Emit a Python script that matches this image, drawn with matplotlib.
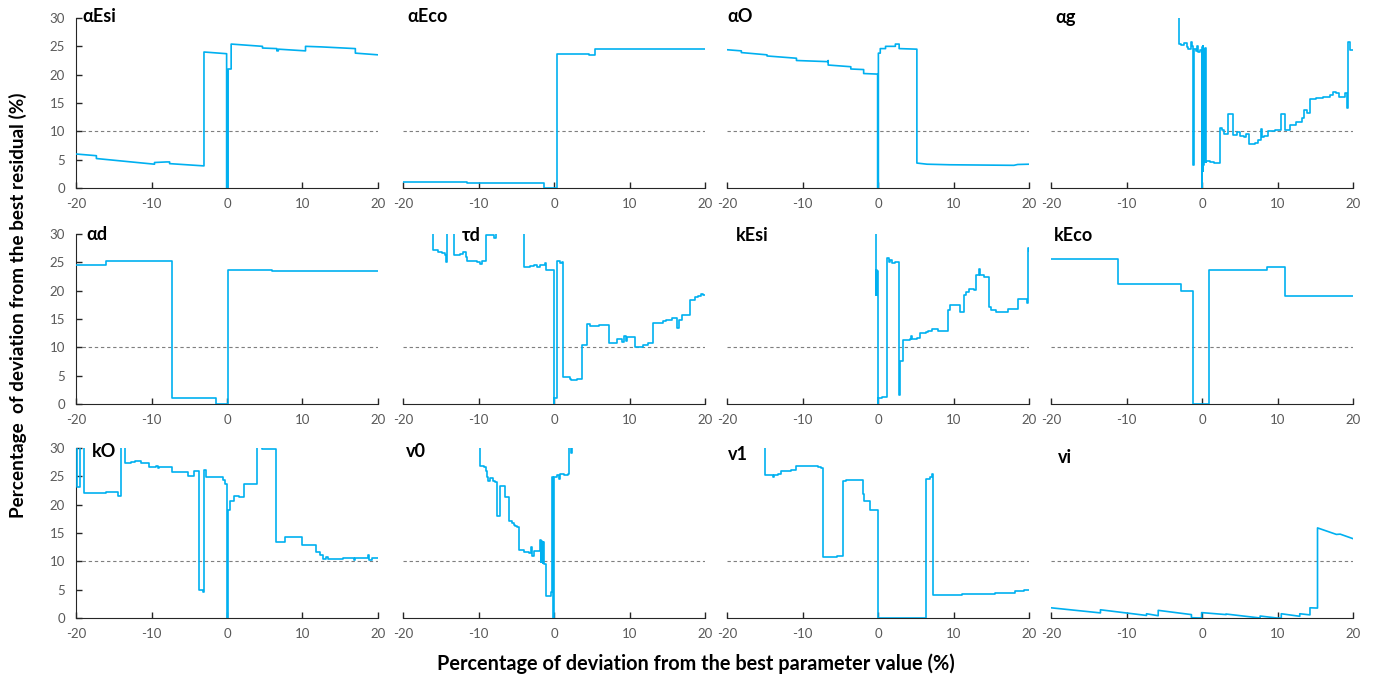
import matplotlib
matplotlib.use("Agg")
import matplotlib.pyplot as plt

plt.rcParams["font.family"] = ["Lato", "DejaVu Sans"]
plt.rcParams["axes.unicode_minus"] = False

LINE_COLOR = "#00B0F0"
TICK_GRAY = "#595959"

# --- residual curves, one pair of lists per parameter ---------------------
# polylines (sloped parts drawn as-is)
aesi_x = [-20, -17.3, -17.3, -9.6, -9.6, -8.0, -7.6, -7.6, -3.05, -3.05, -0.05, -0.05, 0.15, 0.15,
          0.55, 0.55, 4.7, 4.7, 6.6, 6.6, 6.8, 6.8, 10.4, 10.4, 12.5, 17.0, 17.0, 20]
aesi_y = [6.0, 5.7, 5.2, 4.2, 4.5, 4.6, 4.6, 4.3, 3.9, 24.0, 23.7, 0.0, 0.0, 21.0,
          21.0, 25.4, 25.0, 24.7, 24.6, 24.2, 24.2, 24.5, 24.2, 25.0, 24.9, 24.6, 23.8, 23.5]

ao_x = [-20, -18.1, -18.1, -14.7, -14.7, -10.8, -10.8, -6.7, -6.6, -6.6, -3.6, -3.6, -1.9, -1.9,
        -0.05, -0.05, 0.05, 0.05, 0.3, 0.3, 1.0, 1.0, 2.3, 2.3, 2.8, 2.8, 5.15, 5.15, 6.5, 9.5,
        18.0, 18.5, 20]
ao_y = [24.4, 24.2, 23.9, 23.5, 23.3, 22.9, 22.5, 22.3, 22.5, 21.7, 21.4, 21.0, 20.9, 20.2,
        20.1, 0.0, 0.0, 23.8, 23.8, 24.6, 24.6, 25.0, 25.0, 25.4, 25.4, 24.6, 24.5, 4.4, 4.2, 4.1,
        4.0, 4.15, 4.2]

vi_x = [-20, -13.45, -13.45, -7.35, -7.35, -5.8, -5.8, -1.4, -1.4, -0.05, -0.05, 3.2, 3.2, 7.7,
        7.7, 9.9, 10.5, 10.5, 12.95, 12.95, 14.3, 14.3, 15.3, 15.3, 17.8, 18.3, 20]
vi_y = [1.8, 0.9, 1.45, 0.45, 0.75, 0.4, 1.35, 0.6, 0.05, 0.0, 0.95, 0.6, 0.7, 0.0,
        0.35, 0.0, 0.0, 0.75, 0.3, 0.75, 0.55, 1.8, 1.75, 15.9, 14.75, 14.8, 14.0]

# step curves (value holds from x[i] to x[i+1]); 31 = off the top of the axis
aeco_x = [-20, -17.2, -11.5, -5.5, -1.3, 0.4, 4.6, 5.4, 20]
aeco_y = [1.1, 1.05, 0.95, 0.85, 0.0, 23.7, 23.5, 24.5, 24.45]

ag_x = [-3.05, -3.05, -2.8, -2.4, -2.2, -2.0, -1.9, -1.5, -1.3, -1.15, -1.1, -0.75, -0.7, -0.5,
        -0.3, -0.05, 0.02, 0.07, 0.12, 0.17, 0.22, 0.27, 0.32, 0.37, 0.42, 0.47, 0.55, 1.0, 1.6,
        2.45, 2.7, 2.95, 3.45, 4.15, 4.6, 5.0, 5.5, 5.8, 6.2, 7.0, 7.45, 7.75, 7.9, 8.2, 8.8,
        9.65, 10.5, 10.95, 11.6, 12.5, 13.2, 13.5, 13.9, 14.3, 15.15, 16.0, 16.9, 17.4, 17.8,
        18.2, 19.0, 19.2, 19.3, 19.55, 20.0]
ag_y = [31, 25.4, 25.2, 25.6, 25.5, 24.9, 24.6, 25.8, 25.0, 4.0, 24.5, 24.2, 25.0, 24.0,
        24.3, 0.0, 24.8, 3.0, 25.0, 4.0, 24.5, 5.0, 24.0, 4.5, 24.7, 4.5, 4.7, 4.5, 4.4,
        10.5, 10.2, 9.6, 13.0, 9.3, 9.8, 9.2, 9.0, 9.5, 7.8, 8.0, 8.4, 10.4, 9.0, 9.1, 10.1,
        10.3, 13.0, 10.3, 11.1, 11.7, 12.3, 13.8, 13.3, 15.7, 15.8, 16.1, 16.4, 16.9, 16.75,
        16.1, 16.8, 14.1, 25.7, 24.4, 24.4]

ad_x = [-20, -16.0, -11.0, -7.3, -1.45, 0.15, 6.0, 15.7, 20]
ad_y = [24.5, 25.3, 25.2, 1.0, 0.0, 23.65, 23.5, 23.4, 23.4]

td_x = [-16.0, -16.0, -15.3, -14.9, -14.5, -14.3, -14.15, -13.3, -12.4, -12.0, -11.7, -11.5,
        -10.2, -9.8, -9.5, -9.0, -7.9, -7.7, -3.95, -3.2, -2.7, -2.3, -1.8, -1.2, -1.1, -0.05,
        0.05, 0.4, 0.8, 1.0, 1.25, 2.1, 2.3, 3.0, 3.7, 4.4, 4.8, 6.0, 7.3, 8.4, 9.0, 9.3, 9.5,
        9.7, 10.75, 11.8, 12.5, 13.05, 14.5, 14.9, 15.6, 16.35, 16.55, 16.9, 18.0, 18.7, 19.1,
        19.5, 19.8, 20.0]
td_y = [31, 27.2, 26.9, 26.7, 26.3, 25.1, 31, 26.3, 26.5, 26.8, 26.0, 25.3,
        25.1, 24.7, 25.3, 29.9, 29.3, 31, 24.1, 24.3, 24.5, 24.2, 24.5, 24.8, 23.6, 0.0,
        1.1, 25.3, 24.8, 25.1, 4.7, 4.5, 4.2, 4.5, 10.4, 14.1, 13.8, 13.9, 10.8, 11.4, 11.0, 12.0, 11.2,
        11.9, 10.1, 10.4, 10.7, 14.35, 14.6, 14.8, 15.1, 13.4, 14.8, 15.7, 18.35, 18.8, 19.1,
        19.4, 19.2, 19.2]

kesi_x = [-0.3, -0.3, -0.25, -0.2, -0.15, -0.1, -0.05, 0.0, 0.05, 0.55, 1.25, 1.45, 1.65, 1.9,
          2.2, 2.8, 2.9, 3.25, 4.3, 4.35, 4.45, 5.1, 5.55, 6.4, 6.6, 7.2, 8.0, 9.25, 9.6, 10.85,
          11.35, 11.7, 12.1, 12.75, 12.95, 13.35, 13.5, 14.0, 14.75, 15.0, 15.6, 17.2, 18.6,
          19.7, 19.9, 20.0]
kesi_y = [31, 30, 19.2, 23.6, 19.3, 23.5, 19.0, 0.0, 1.0, 1.2, 25.8, 25.1, 25.5, 24.8,
          25.1, 1.6, 7.6, 11.3, 11.4, 12.0, 11.4, 11.6, 12.5, 12.7, 12.8, 13.2, 12.9, 16.6, 17.5, 16.2,
          19.2, 19.8, 20.3, 20.1, 22.8, 23.8, 22.8, 22.4, 17.2, 16.6, 16.3, 16.7, 18.5,
          17.9, 27.5, 27.0]

keco_x = [-20, -11.15, -2.8, -1.25, 0.95, 8.55, 11.05, 17.7, 20]
keco_y = [25.6, 21.1, 20.0, 0.0, 23.65, 24.1, 19.1, 19.0, 19.0]

ko_x = [-20, -19.85, -19.5, -19.0, -16.0, -15.1, -14.45, -14.0, -13.45, -12.7, -12.2, -11.4,
        -10.35, -9.4, -9.2, -9.0, -7.25, -5.2, -4.4, -3.65, -3.2, -3.1, -2.75, -0.5, -0.3, 0.0,
        0.08, 0.35, 0.95, 1.6, 2.25, 4.0, 4.7, 6.5, 7.7, 10.0, 11.75, 12.3, 12.75, 13.05, 13.4,
        15.3, 16.8, 16.9, 18.4, 18.65, 18.8, 19.25, 20]
ko_y = [31, 23.2, 31, 22.1, 22.2, 22.3, 21.5, 31, 27.4, 27.6, 27.7, 27.4,
        26.6, 26.8, 26.5, 26.7, 25.7, 25.1, 25.9, 4.9, 4.6, 26.1, 24.8, 24.3, 23.7, 0.0,
        19.0, 20.6, 21.6, 21.4, 23.7, 31, 29.9, 13.5, 14.3, 12.8, 11.6, 11.2, 10.45, 10.7, 10.45,
        10.6, 10.2, 10.6, 10.6, 11.2, 10.3, 10.6, 10.6]

v0_x = [-9.75, -9.75, -9.3, -9.0, -8.9, -8.7, -8.5, -8.05, -7.8, -7.55, -7.1, -6.5, -5.95,
        -5.6, -5.3, -5.1, -4.9, -4.6, -4.0, -3.3, -3.1, -2.95, -2.7, -1.9, -1.75, -1.7, -1.6,
        -1.55, -1.45, -1.4, -1.3, -1.1, -0.4, -0.3, -0.2, -0.07, 0.0, 0.4, 0.6, 0.8, 1.3, 1.9,
        2.0, 2.3, 2.4]
v0_y = [31, 26.9, 26.6, 26.0, 24.8, 24.2, 24.7, 24.2, 23.95, 18.05, 23.3, 21.3, 17.2,
        16.7, 16.4, 16.15, 16.0, 12.0, 11.6, 11.4, 12.5, 11.0, 11.8, 13.7, 9.9, 13.6, 9.8,
        13.5, 9.7, 13.4, 9.6, 3.9, 4.6, 24.6, 24.9, 0.0, 24.9, 25.2, 24.6, 25.5, 25.3, 25.5,
        31, 29.2, 31]

v1_x = [-15.0, -15.0, -13.85, -13.75, -13.3, -12.8, -11.55, -10.85, -10.4, -7.9, -7.5, -7.3,
        -5.45, -4.7, -4.2, -2.8, -2.05, -1.9, -1.05, -0.05, 6.4, 6.95, 7.1, 7.3, 11.1, 15.5,
        18.1, 19.4, 20]
v1_y = [31, 25.25, 24.8, 25.25, 25.5, 25.9, 26.2, 26.8, 26.9, 26.7, 26.5, 10.8,
        10.9, 24.25, 24.4, 24.3, 21.8, 20.6, 19.0, 0.0, 24.6, 24.8, 25.5, 4.0, 4.3, 4.4,
        4.7, 5.0, 5.0]

panels = [
    ("αEsi", aesi_x, aesi_y), ("αEco", aeco_x, aeco_y), ("αO", ao_x, ao_y), ("αg", ag_x, ag_y),
    ("αd", ad_x, ad_y), ("τd", td_x, td_y), ("kEsi", kesi_x, kesi_y), ("kEco", keco_x, keco_y),
    ("kO", ko_x, ko_y), ("v0", v0_x, v0_y), ("v1", v1_x, v1_y), ("vi", vi_x, vi_y),
]
polyline_panels = {"αEsi", "αO", "vi"}

# label offsets inside each panel (axes fraction)
label_pos = [(0.02, 1.006), (0.013, 1.006), (0.0, 1.006), (0.013, 1.0),
             (0.033, 1.0), (0.195, 0.994), (0.03, 0.994), (0.01, 0.994),
             (0.053, 0.982), (0.01, 0.977), (0.003, 0.96), (0.023, 0.942)]

fig = plt.figure(figsize=(13.74, 6.86), dpi=100)
lefts = [76, 403, 727, 1051]
bottoms = [188, 404, 618]
W, H = 1374, 686

for i, (name, xs, ys) in enumerate(panels):
    r, c = divmod(i, 4)
    ax = fig.add_axes([lefts[c] / W, 1 - bottoms[r] / H, 302 / W, 170 / H])
    ds = "default" if name in polyline_panels else "steps-post"
    ax.plot(xs, ys, color=LINE_COLOR, lw=1.2, drawstyle=ds, zorder=3)
    ax.axhline(10, color="#7f7f7f", lw=0.8, ls=(0, (3, 2.5)), zorder=1)
    ax.set_xlim(-20, 20)
    ax.set_ylim(0, 30)
    ax.set_xticks([-20, -10, 0, 10, 20])
    for s in ("top", "right"):
        ax.spines[s].set_visible(False)
    ax.spines["bottom"].set_color("#262626")
    ax.tick_params(axis="x", direction="in", length=4, width=1, color="#262626",
                   labelsize=9.5, labelcolor=TICK_GRAY, pad=7)
    if c == 0:
        ax.set_yticks([0, 5, 10, 15, 20, 25, 30])
        ax.spines["left"].set_color("#262626")
        ax.tick_params(axis="y", direction="in", length=4, width=1, color="#262626",
                       labelsize=9.5, labelcolor=TICK_GRAY, pad=8)
    else:
        ax.spines["left"].set_visible(False)
        ax.set_yticks([])
    lx, ly = label_pos[i]
    ax.text(lx, ly, name, transform=ax.transAxes, ha="left", va="center",
            fontsize=13, fontweight="bold", color="black", zorder=5)

fig.text(0.013, 0.555, "Percentage  of deviation from the best residual (%)", rotation=90,
         ha="center", va="center", fontsize=13.6, fontweight="bold")
fig.text(0.5066, 0.032, "Percentage of deviation from the best parameter value (%)",
         ha="center", va="center", fontsize=14.3, fontweight="bold")

fig.savefig("out.png", dpi=100)
